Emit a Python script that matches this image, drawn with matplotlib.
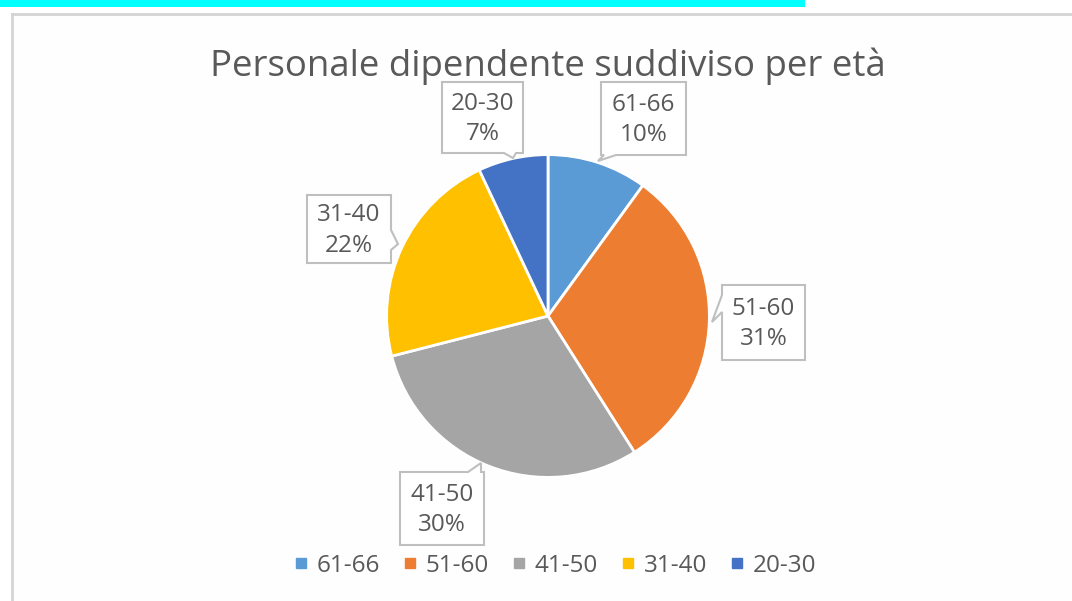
import matplotlib
matplotlib.use("Agg")
import matplotlib.pyplot as plt
from matplotlib.patches import Polygon, Rectangle
from matplotlib.lines import Line2D

# ---- data ----
categories = ["61-66", "51-60", "41-50", "31-40", "20-30"]
values = [10, 31, 30, 22, 7]
title = "Personale dipendente suddiviso per età"

# ---- style ----
colors = ["#5B9BD5", "#ED7D31", "#A5A5A5", "#FFC000", "#4472C4"]
text_color = "#595959"
FONT = ["Open Sans", "DejaVu Sans"]
W, H = 1072, 601

# callout boxes (pixel coords: left, top, right, bottom), pointer side, base, tip
callouts = [
    dict(box=(601, 82, 686, 155), side="bottom", base=(604, 616), tip=(598, 161)),
    dict(box=(722, 285, 805, 360), side="left", base=(295, 312), tip=(712, 322)),
    dict(box=(400, 472, 484, 545), side="top", base=(468, 481), tip=(481, 463)),
    dict(box=(307, 195, 391, 263), side="right", base=(230, 250), tip=(398, 244)),
    dict(box=(442, 82, 523, 153), side="bottom", base=(504, 516), tip=(513, 158)),
]

plt.rcParams['font.family'] = FONT
fig = plt.figure(figsize=(W / 100, H / 100), dpi=100)
fig.patch.set_facecolor("white")


def P(x, y):
    return (x / W, 1 - y / H)


# cyan strip at top
fig.patches.append(Rectangle(P(0, 7), 805 / W, 7 / H, transform=fig.transFigure,
                             facecolor="#00FFFF", edgecolor="none", zorder=-10))
# chart area background and border
fig.patches.append(Rectangle(P(12, 601), (W - 12) / W, (601 - 14) / H,
                             transform=fig.transFigure, facecolor="#FEFEFE",
                             edgecolor="none", zorder=-10))
fig.lines.append(Line2D([12 / W, 1], [1 - 14 / H, 1 - 14 / H], transform=fig.transFigure,
                        color="#D4D4D4", lw=2, zorder=-5))
fig.lines.append(Line2D([12 / W, 12 / W], [0, 1 - 14 / H], transform=fig.transFigure,
                        color="#D4D4D4", lw=2, zorder=-5))

# pie
cx, cy, r = 548, 316, 163
ax = fig.add_axes([(cx - r) / W, 1 - (cy + r) / H, 2 * r / W, 2 * r / H])
ax.set_zorder(1)
ax.pie(values, colors=colors, startangle=90, counterclock=False, radius=1,
       wedgeprops=dict(edgecolor="white", linewidth=2))
ax.set_xlim(-1.01, 1.01)
ax.set_ylim(-1.01, 1.01)
ax.set_aspect("auto")
ax.axis("off")

# title
fig.text(548 / W, 1 - 66 / H, title, ha="center", va="center", fontsize=26.4,
         color=text_color)

# callouts
total = sum(values)
for cat, val, c in zip(categories, values, callouts):
    l, t, rr, b = c["box"]
    s = c["side"]
    b0, b1 = c["base"]
    tx, ty = c["tip"]
    pts = [(l, t)]
    if s == "top":
        pts += [(b0, t), (tx, ty), (b1, t)]
    pts.append((rr, t))
    if s == "right":
        pts += [(rr, b0), (tx, ty), (rr, b1)]
    pts.append((rr, b))
    if s == "bottom":
        pts += [(b1, b), (tx, ty), (b0, b)]
    pts.append((l, b))
    if s == "left":
        pts += [(l, b1), (tx, ty), (l, b0)]
    poly = Polygon([P(x, y) for x, y in pts], closed=True, transform=fig.transFigure,
                   facecolor="white", edgecolor="#BFBFBF", lw=1.5, zorder=5)
    fig.patches.append(poly)
    pct = round(100 * val / total)
    fig.text((l + rr) / 2 / W, 1 - ((t + b) / 2 + 1.5) / H, f"{cat}\n{pct}%", ha="center",
             va="center", fontsize=17.5, color=text_color, linespacing=1.35, zorder=6)

# legend
handles = [Line2D([], [], marker="s", linestyle="none", markersize=7,
                  markerfacecolor=col, markeredgecolor=col) for col in colors]
fig.legend(handles, categories, loc="center", bbox_to_anchor=P(555, 566), ncol=5,
           frameon=False, fontsize=17.5, labelcolor=text_color, handlelength=0.6,
           handletextpad=0.35, columnspacing=0.93)

fig.savefig("out.png", dpi=100)
